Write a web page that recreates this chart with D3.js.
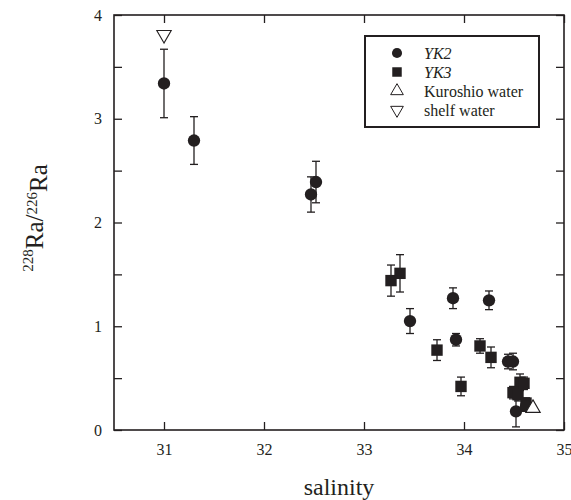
<!DOCTYPE html>
<meta charset="utf-8">
<script src="https://d3js.org/d3.v7.min.js"></script>
<style>
  body { margin: 0; background: #fff; }
  svg, svg text { font-family: "Liberation Serif", "Times New Roman", Times, "DejaVu Serif", serif; }
  text { fill: #231f20; }
</style>
<svg id="chart" width="571" height="500"></svg>
<script>

    // YK2 stations (circles): salinity, ratio, error
    const yk2Sal = [31.00, 31.30, 32.47, 32.52, 33.46, 33.89, 34.25, 33.92, 34.44, 34.49, 34.52, 34.62];
    const yk2Ratio = [3.34, 2.79, 2.27, 2.39, 1.05, 1.27, 1.25, 0.87, 0.66, 0.66, 0.18, 0.23];
    const yk2Err = [0.33, 0.23, 0.17, 0.20, 0.12, 0.10, 0.09, 0.06, 0.07, 0.08, 0.15, 0.05];

    // YK3 stations (squares)
    const yk3Sal = [33.27, 33.36, 33.73, 33.97, 34.16, 34.27, 34.56, 34.60, 34.49, 34.54, 34.62];
    const yk3Ratio = [1.44, 1.51, 0.77, 0.42, 0.81, 0.70, 0.46, 0.45, 0.36, 0.34, 0.26];
    const yk3Err = [0.15, 0.18, 0.10, 0.09, 0.07, 0.10, 0.08, 0.06, 0.06, 0.06, 0.05];

    // end members
    const kuroshio = [34.69, 0.21];
    const shelf = [31.00, 3.81];

    const xTicks = [31, 32, 33, 34, 35];
    const yTicks = [0, 1, 2, 3, 4];
    const yMinor = [0, 0.5, 1, 1.5, 2, 2.5, 3, 3.5, 4];

    const legendItems = [
        {label: "YK2", shape: "circle", italic: true},
        {label: "YK3", shape: "square", italic: true},
        {label: "Kuroshio water", shape: "up", italic: false},
        {label: "shelf water", shape: "down", italic: false}
    ];

    const serif = '"Liberation Serif", "Times New Roman", Times, "DejaVu Serif", serif';

    const svg = d3.select("#chart");
    const mLeft = 114, mRight = 564, mTop = 15, mBottom = 430;

    const x = d3.scaleLinear().domain([30.5, 35]).range([mLeft, mRight]);
    const y = d3.scaleLinear().domain([0, 4]).range([mBottom, mTop]);

    // frame
    svg.append("rect")
        .attr("x", mLeft).attr("y", mTop)
        .attr("width", mRight - mLeft).attr("height", mBottom - mTop)
        .style("fill", "none").style("stroke", "#231f20").style("stroke-width", 1.6);

    const tickLen = 8;

    // axes with inward ticks
    svg.append("g")
        .attr("transform", `translate(0,${mBottom})`)
        .call(d3.axisBottom(x).tickValues(xTicks).tickSizeInner(-tickLen).tickSizeOuter(0).tickPadding(14).tickFormat(d3.format("d")))
        .call(g => g.select(".domain").remove())
        .call(g => g.attr("font-family", serif).attr("font-size", 16));

    svg.append("g")
        .attr("transform", `translate(0,${mTop})`)
        .call(d3.axisTop(x).tickValues(xTicks).tickSizeInner(-tickLen).tickSizeOuter(0).tickFormat(""))
        .call(g => g.select(".domain").remove());

    svg.append("g")
        .attr("transform", `translate(${mLeft},0)`)
        .call(d3.axisLeft(y).tickValues(yMinor).tickSizeInner(-tickLen).tickSizeOuter(0).tickPadding(12)
            .tickFormat(d => yTicks.includes(d) ? d : ""))
        .call(g => g.select(".domain").remove())
        .call(g => g.attr("font-family", serif).attr("font-size", 16));

    svg.append("g")
        .attr("transform", `translate(${mRight},0)`)
        .call(d3.axisRight(y).tickValues(yMinor).tickSizeInner(-tickLen).tickSizeOuter(0).tickFormat(""))
        .call(g => g.select(".domain").remove());

    svg.selectAll(".tick line").style("stroke", "#231f20").style("stroke-width", 1.3);
    svg.selectAll(".tick text").style("fill", "#231f20");

    // axis titles
    svg.append("text")
        .attr("x", (mLeft + mRight) / 2).attr("y", 495)
        .attr("text-anchor", "middle")
        .style("font-family", serif)
        .style("font-size", "24px")
        .text("salinity");

    const ytitle = svg.append("text")
        .attr("transform", "translate(39,218) rotate(-90)")
        .attr("text-anchor", "middle")
        .style("font-family", serif)
        .style("font-size", "25px");
    ytitle.append("tspan").attr("dy", "-0.42em").style("font-size", "15px").text("228");
    ytitle.append("tspan").attr("dy", "0.42em").text("Ra/");
    ytitle.append("tspan").attr("dy", "-0.42em").style("font-size", "15px").text("226");
    ytitle.append("tspan").attr("dy", "0.42em").text("Ra");

    // error bars
    function errorBars(sal, ratio, err) {
        const g = svg.append("g").style("stroke", "#231f20").style("stroke-width", 1.3);
        sal.forEach((s, i) => {
            const cx = x(s), y0 = y(ratio[i] - err[i]), y1 = y(ratio[i] + err[i]);
            g.append("line").attr("x1", cx).attr("x2", cx).attr("y1", y0).attr("y2", y1);
            g.append("line").attr("x1", cx - 4).attr("x2", cx + 4).attr("y1", y0).attr("y2", y0);
            g.append("line").attr("x1", cx - 4).attr("x2", cx + 4).attr("y1", y1).attr("y2", y1);
        });
    }
    errorBars(yk2Sal, yk2Ratio, yk2Err);
    errorBars(yk3Sal, yk3Ratio, yk3Err);

    const sym = {
        circle: d3.symbol().type(d3.symbolCircle).size(120),
        square: d3.symbol().type(d3.symbolSquare).size(130),
        up: d3.symbol().type(d3.symbolTriangle).size(90)
    };

    svg.append("g").selectAll("path")
        .data(yk3Sal)
        .enter().append("path")
            .attr("transform", (d, i) => `translate(${x(d)},${y(yk3Ratio[i])})`)
            .attr("d", sym.square())
            .style("fill", "#231f20");

    svg.append("g").selectAll("path")
        .data(yk2Sal)
        .enter().append("path")
            .attr("transform", (d, i) => `translate(${x(d)},${y(yk2Ratio[i])})`)
            .attr("d", sym.circle())
            .style("fill", "#231f20");

    svg.append("path")
        .attr("transform", `translate(${x(kuroshio[0])},${y(kuroshio[1])})`)
        .attr("d", sym.up())
        .style("fill", "#fff").style("stroke", "#231f20").style("stroke-width", 1.1);

    svg.append("path")
        .attr("transform", `translate(${x(shelf[0])},${y(shelf[1])}) rotate(180)`)
        .attr("d", sym.up())
        .style("fill", "#fff").style("stroke", "#231f20").style("stroke-width", 1.1);

    // legend
    const lg = svg.append("g").attr("transform", "translate(365,36)");
    lg.append("rect")
        .attr("width", 174).attr("height", 91)
        .style("fill", "#fff").style("stroke", "#231f20").style("stroke-width", 2);

    const rows = lg.selectAll("g.row")
        .data(legendItems)
        .enter().append("g")
            .attr("class", "row")
            .attr("transform", (d, i) => `translate(0,${17 + i * 19})`);

    rows.append("path")
        .attr("transform", d => `translate(32,0)${d.shape === "down" ? " rotate(180)" : ""}`)
        .attr("d", d => d.shape === "circle" ? d3.symbol().type(d3.symbolCircle).size(80)()
            : d.shape === "square" ? d3.symbol().type(d3.symbolSquare).size(90)()
            : d3.symbol().type(d3.symbolTriangle).size(70)())
        .style("fill", d => (d.shape === "circle" || d.shape === "square") ? "#231f20" : "#fff")
        .style("stroke", "#231f20")
        .style("stroke-width", d => (d.shape === "circle" || d.shape === "square") ? 0 : 1);

    rows.append("text")
        .attr("x", 59).attr("dy", "0.35em")
        .style("font-family", serif)
        .style("font-size", "16px")
        .style("font-style", d => d.italic ? "italic" : "normal")
        .text(d => d.label);

</script>
